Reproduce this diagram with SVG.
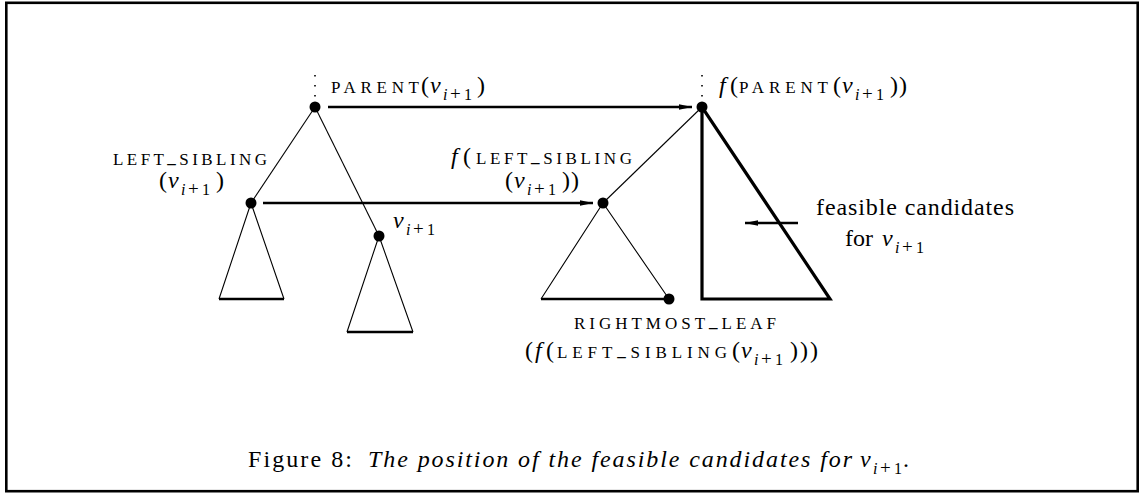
<svg xmlns="http://www.w3.org/2000/svg" width="1139" height="494" viewBox="0 0 1139 494">
<defs>
<style>
.sc{font-family:"Liberation Serif",serif;font-size:17px;fill:#000}
.rm{font-family:"Liberation Serif",serif;font-size:24px;fill:#000}
.it{font-family:"Liberation Serif",serif;font-size:24px;font-style:italic;fill:#000}
.sub{font-family:"Liberation Serif",serif;font-size:16px;fill:#000}
.si{font-style:italic}
.pl{font-size:19px}
.thin{stroke:#000;stroke-width:1.1;fill:none}
.thick{stroke:#000;stroke-width:2.7;fill:none}
.heavy{stroke:#000;stroke-width:3.2;fill:none;stroke-linejoin:miter}
.dotv{stroke:#000;stroke-width:1.6;stroke-dasharray:1.6 8.4;fill:none}
.dot{fill:#000}
.arr{stroke:#000;stroke-width:2.7;fill:none}
</style>
<marker id="ah" viewBox="0 0 13 8" refX="13" refY="4" markerWidth="13" markerHeight="8" markerUnits="userSpaceOnUse" orient="auto">
<path d="M0,1.2 L13,4 L0,6.8 Z" fill="#000"/>
</marker>
</defs>
<rect x="6.3" y="2.8" width="1131.4" height="488.4" fill="#fff" stroke="#000" stroke-width="2.6"/>

<g id="connectors">
<line class="thin" x1="315" y1="107" x2="251" y2="203"/>
<line class="thin" x1="315" y1="107" x2="379" y2="236"/>
<line class="thin" x1="702" y1="107" x2="603" y2="203"/>
<line class="arr" x1="328" y1="107" x2="692" y2="107" marker-end="url(#ah)"/>
<line class="arr" x1="263" y1="203" x2="593" y2="203" marker-end="url(#ah)"/>
<line class="arr" x1="798" y1="223" x2="745" y2="223" stroke-width="2.2" marker-end="url(#ah)"/>
</g>

<g id="parent">
<line class="dotv" x1="315" y1="75" x2="315" y2="99"/>
<circle class="dot" cx="315" cy="107" r="5.5"/>
<text class="sc" x="331" y="93" textLength="88" lengthAdjust="spacing">PARENT</text>
<text class="rm" x="421" y="93">(</text>
<text class="it" x="430" y="93">v</text>
<text class="sub" y="100"><tspan class="si" x="443">i</tspan><tspan class="pl" x="450">+</tspan><tspan x="464">1</tspan></text>
<text class="rm" x="477" y="93">)</text>
</g>

<g id="f-parent">
<line class="dotv" x1="702" y1="75" x2="702" y2="99"/>
<circle class="dot" cx="702" cy="107" r="5.5"/>
<text class="it" x="719" y="93">f</text>
<text class="rm" x="730" y="93">(</text>
<text class="sc" x="739" y="93" textLength="89" lengthAdjust="spacing">PARENT</text>
<text class="rm" x="833" y="93">(</text>
<text class="it" x="842" y="93">v</text>
<text class="sub" y="100"><tspan class="si" x="855">i</tspan><tspan class="pl" x="862">+</tspan><tspan x="876">1</tspan></text>
<text class="rm" x="890" y="93">)</text>
<text class="rm" x="899" y="93">)</text>
</g>

<g id="left-sibling">
<circle class="dot" cx="251" cy="203" r="5.5"/>
<path class="thin" d="M251,203 L219,299 M251,203 L284,299"/>
<line class="thick" x1="219" y1="299" x2="284" y2="299"/>
<text class="sc" x="113" y="165" textLength="154" lengthAdjust="spacing">LEFT<tspan font-weight="bold" dy="-2">_</tspan><tspan dy="2">SIBLING</tspan></text>
<text class="rm" x="159" y="188">(</text>
<text class="it" x="168" y="188">v</text>
<text class="sub" y="195"><tspan class="si" x="181">i</tspan><tspan class="pl" x="188">+</tspan><tspan x="202">1</tspan></text>
<text class="rm" x="216" y="188">)</text>
</g>

<g id="v-next">
<circle class="dot" cx="379" cy="236" r="5.5"/>
<path class="thin" d="M379,236 L347,332 M379,236 L413,332"/>
<line class="thick" x1="347" y1="332" x2="413" y2="332"/>
<text class="it" x="393" y="228">v</text>
<text class="sub" y="235"><tspan class="si" x="406">i</tspan><tspan class="pl" x="413">+</tspan><tspan x="427">1</tspan></text>
</g>

<g id="f-left-sibling">
<circle class="dot" cx="603" cy="203" r="5.5"/>
<path class="thin" d="M603,203 L541,299 M603,203 L669,299"/>
<line class="thick" x1="541" y1="299" x2="669" y2="299"/>
<text class="it" x="451" y="164">f</text>
<text class="rm" x="463" y="164">(</text>
<text class="sc" x="476" y="164" textLength="156" lengthAdjust="spacing">LEFT<tspan font-weight="bold" dy="-2">_</tspan><tspan dy="2">SIBLING</tspan></text>
<text class="rm" x="505" y="188">(</text>
<text class="it" x="514" y="188">v</text>
<text class="sub" y="195"><tspan class="si" x="527">i</tspan><tspan class="pl" x="534">+</tspan><tspan x="548">1</tspan></text>
<text class="rm" x="562" y="188">)</text>
<text class="rm" x="571" y="188">)</text>
</g>

<g id="rightmost-leaf">
<circle class="dot" cx="669" cy="299" r="5.5"/>
<text class="sc" x="574" y="329" textLength="202" lengthAdjust="spacing">RIGHTMOST<tspan font-weight="bold" dy="-2">_</tspan><tspan dy="2">LEAF</tspan></text>
<text class="rm" x="525" y="358">(</text>
<text class="it" x="535" y="358">f</text>
<text class="rm" x="546" y="358">(</text>
<text class="sc" x="557" y="358" textLength="170" lengthAdjust="spacing">LEFT<tspan font-weight="bold" dy="-2">_</tspan><tspan dy="2">SIBLING</tspan></text>
<text class="rm" x="732" y="358">(</text>
<text class="it" x="741" y="358">v</text>
<text class="sub" y="365"><tspan class="si" x="754">i</tspan><tspan class="pl" x="761">+</tspan><tspan x="775">1</tspan></text>
<text class="rm" x="790" y="358">)</text>
<text class="rm" x="800" y="358">)</text>
<text class="rm" x="810" y="358">)</text>
</g>

<g id="feasible-candidates">
<path class="heavy" d="M702,107 L702,299 L830,299 Z"/>
<text class="rm" x="816" y="215" textLength="198" lengthAdjust="spacing">feasible candidates</text>
<text class="rm" x="845" y="246">for</text>
<text class="it" x="882" y="246">v</text>
<text class="sub" y="253"><tspan class="si" x="895">i</tspan><tspan class="pl" x="902">+</tspan><tspan x="916">1</tspan></text>
</g>

<g id="caption">
<text class="rm" x="248" y="467" textLength="104" lengthAdjust="spacing">Figure 8:</text>
<text class="it" x="368" y="467" textLength="484" lengthAdjust="spacing">The position of the feasible candidates for</text>
<text class="it" x="860" y="467">v</text>
<text class="sub" y="474"><tspan class="si" x="873">i</tspan><tspan class="pl" x="880">+</tspan><tspan x="894">1</tspan></text>
<text class="rm" x="903" y="467">.</text>
</g>
</svg>
